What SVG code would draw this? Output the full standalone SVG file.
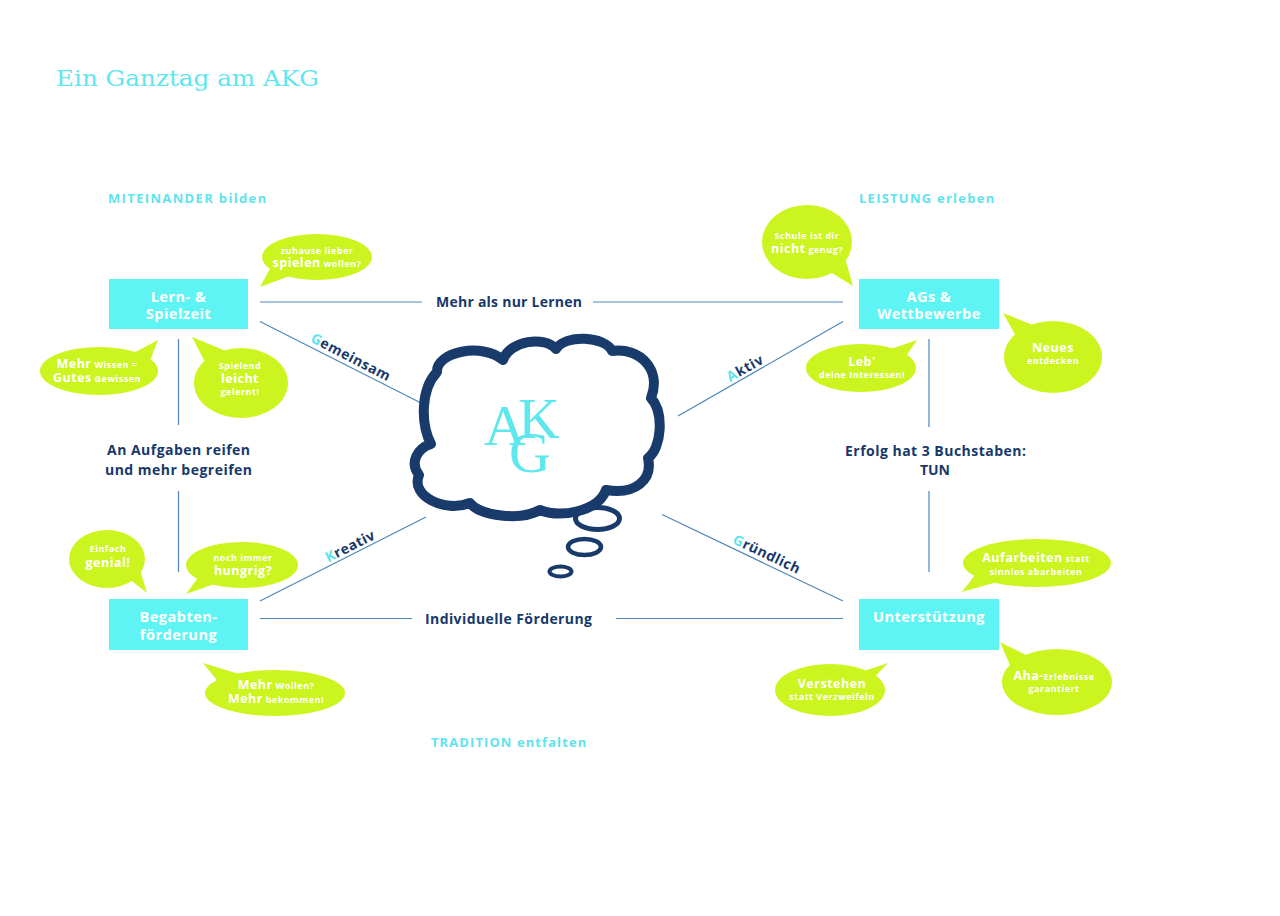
<svg xmlns="http://www.w3.org/2000/svg" width="1280" height="916" viewBox="0 0 1280 916">
<style>
text { font-family: "Open Sans", "Liberation Sans", sans-serif; }
.title { font-family: "DejaVu Serif", "Liberation Serif", serif; font-size: 23px; fill: #5fe6ee; }
.hdr { font-weight: 700; font-size: 13px; fill: #5fe3ee; letter-spacing: 0.8px; }
.lbl { font-weight: 700; font-size: 14px; fill: #17396a; text-anchor: middle; }
.diag { font-weight: 700; font-size: 14px; fill: #17396a; text-anchor: middle; letter-spacing: 0.6px; }
.cy { fill: #5fe3ee; }
.box { fill: #5ef4f4; }
.boxt { fill: #ffffff; font-weight: 700; font-size: 14.5px; text-anchor: middle; letter-spacing: 0.5px; }
.bub { fill: #ccf520; }
.bt { fill: #ffffff; font-weight: 700; text-anchor: middle; letter-spacing: 0.5px; }
.s { font-size: 9px; }
.b { font-size: 12.5px; }
.ln { stroke: #4f86b9; stroke-width: 1.2; fill: none; }
.cloud { fill: #ffffff; stroke: #193b6b; stroke-width: 10; stroke-linejoin: round; }
.ring { fill: none; stroke: #193b6b; }
.akg { font-family: "Liberation Serif", "DejaVu Serif", serif; font-size: 58px; fill: #5ee8ee; }
</style>
<rect width="1280" height="916" fill="#ffffff"/>

<text class="title" x="56" y="86" textLength="263" lengthAdjust="spacingAndGlyphs">Ein Ganztag am AKG</text>

<text class="hdr" x="108" y="203" textLength="159">MITEINANDER bilden</text>
<text class="hdr" x="859" y="203" textLength="136">LEISTUNG erleben</text>
<text class="hdr" x="431" y="747" textLength="156">TRADITION entfalten</text>

<g id="connectors">
  <line class="ln" x1="260" y1="302" x2="422" y2="302"/>
  <line class="ln" x1="593" y1="302" x2="843" y2="302"/>
  <line class="ln" x1="260" y1="618.5" x2="412" y2="618.5"/>
  <line class="ln" x1="616" y1="618.5" x2="843" y2="618.5"/>
  <line class="ln" x1="178.5" y1="339" x2="178.5" y2="425"/>
  <line class="ln" x1="178.5" y1="491" x2="178.5" y2="572"/>
  <line class="ln" x1="929" y1="339" x2="929" y2="427"/>
  <line class="ln" x1="929" y1="491" x2="929" y2="572"/>
  <line class="ln" x1="260" y1="321.5" x2="423" y2="404"/>
  <line class="ln" x1="678" y1="416" x2="843" y2="321.5"/>
  <line class="ln" x1="260" y1="601" x2="426" y2="517"/>
  <line class="ln" x1="662" y1="514.5" x2="843" y2="601"/>

  <text class="lbl" x="509" y="307" textLength="146">Mehr als nur Lernen</text>
  <text class="lbl" x="508.5" y="624" textLength="167">Individuelle Förderung</text>
  <text class="lbl" x="178.5" y="455" textLength="143">An Aufgaben reifen</text>
  <text class="lbl" x="178.5" y="475" textLength="147">und mehr begreifen</text>
  <text class="lbl" x="935.5" y="456" textLength="181">Erfolg hat 3 Buchstaben:</text>
  <text class="lbl" x="935" y="475" textLength="30">TUN</text>

  <text class="diag" transform="translate(351,357) rotate(27.4)" x="0" y="5" textLength="88"><tspan class="cy">G</tspan>emeinsam</text>
  <text class="diag" transform="translate(745,368) rotate(-29.6)" x="0" y="5" textLength="40"><tspan class="cy">A</tspan>ktiv</text>
  <text class="diag" transform="translate(350,546) rotate(-26.7)" x="0" y="5" textLength="54"><tspan class="cy">K</tspan>reativ</text>
  <text class="diag" transform="translate(767,554) rotate(25.3)" x="0" y="5" textLength="73"><tspan class="cy">G</tspan>ründlich</text>
</g>

<g id="cloud">
  <path class="cloud" d="M 437,372 C 436,352 482,342 503,360 C 510,340 545,336 556,349 C 565,334 605,336 612,351 C 640,347 662,370 651,398 C 664,412 662,448 648,458 C 653,480 635,495 606,490 C 598,512 560,518 540,510 C 520,521 480,516 470,503 C 445,513 410,496 419,475 C 409,462 418,448 431,444 C 421,425 420,390 437,372 Z"/>
  <ellipse class="ring" cx="597.5" cy="518.5" rx="22" ry="11" stroke-width="5"/>
  <ellipse class="ring" cx="584.5" cy="547" rx="16.5" ry="8" stroke-width="4.5"/>
  <ellipse class="ring" cx="560.5" cy="571.5" rx="11" ry="5" stroke-width="4"/>
  <text class="akg" x="484" y="445" font-size="56">A</text>
  <text class="akg" x="518" y="438">K</text>
  <text class="akg" x="509" y="472">G</text>
</g>

<g id="lern-spielzeit">
  <rect class="box" x="109" y="279" width="139" height="50"/>
  <text class="boxt" x="178.5" y="301.5">Lern- &amp;</text>
  <text class="boxt" x="178.5" y="319">Spielzeit</text>
</g>
<g id="ags-wettbewerbe">
  <rect class="box" x="859" y="279" width="140" height="50"/>
  <text class="boxt" x="929" y="301.5">AGs &amp;</text>
  <text class="boxt" x="929" y="319">Wettbewerbe</text>
</g>
<g id="begabtenfoerderung">
  <rect class="box" x="109" y="599" width="139" height="51"/>
  <text class="boxt" x="178.5" y="621.5">Begabten-</text>
  <text class="boxt" x="178.5" y="639.5">förderung</text>
</g>
<g id="unterstuetzung">
  <rect class="box" x="859" y="599" width="140" height="51"/>
  <text class="boxt" x="929" y="622">Unterstützung</text>
</g>

<g id="bubble-zuhause">
  <ellipse class="bub" cx="317" cy="257" rx="55" ry="23"/>
  <polygon class="bub" points="260,287 272,265 292,275"/>
  <text class="bt" x="317" y="253.5"><tspan class="s">zuhause lieber</tspan></text>
  <text class="bt" x="317" y="267"><tspan class="b">spielen</tspan><tspan class="s"> wollen?</tspan></text>
</g>
<g id="bubble-mehr-wissen">
  <ellipse class="bub" cx="99" cy="371" rx="59" ry="24"/>
  <polygon class="bub" points="158,340 128,356 148,366"/>
  <text class="bt" x="97" y="367.5"><tspan class="b">Mehr</tspan><tspan class="s"> Wissen =</tspan></text>
  <text class="bt" x="97" y="381.5"><tspan class="b">Gutes</tspan><tspan class="s"> Gewissen</tspan></text>
</g>
<g id="bubble-spielend">
  <ellipse class="bub" cx="241" cy="383" rx="47" ry="35"/>
  <polygon class="bub" points="192,337 205,362 228,352"/>
  <text class="bt s" x="240" y="369">Spielend</text>
  <text class="bt b" x="240" y="382.5">leicht</text>
  <text class="bt s" x="240" y="395">gelernt!</text>
</g>
<g id="bubble-schule">
  <ellipse class="bub" cx="807" cy="242" rx="45" ry="37"/>
  <polygon class="bub" points="853,286 827,270 845,258"/>
  <text class="bt s" x="807" y="239">Schule ist dir</text>
  <text class="bt" x="807" y="252.5"><tspan class="b">nicht</tspan><tspan class="s"> genug?</tspan></text>
</g>
<g id="bubble-leb">
  <ellipse class="bub" cx="861" cy="368" rx="55" ry="24"/>
  <polygon class="bub" points="917,340 882,352 902,362"/>
  <text class="bt b" x="862" y="366">Leb'</text>
  <text class="bt s" x="862" y="377.5">deine Interessen!</text>
</g>
<g id="bubble-neues">
  <ellipse class="bub" cx="1053" cy="357" rx="49" ry="36"/>
  <polygon class="bub" points="1003,313 1018,340 1040,328"/>
  <text class="bt b" x="1053" y="352">Neues</text>
  <text class="bt s" x="1053" y="363.5">entdecken</text>
</g>
<g id="bubble-einfach">
  <ellipse class="bub" cx="107" cy="559" rx="38" ry="29"/>
  <polygon class="bub" points="147,593 128,578 140,570"/>
  <text class="bt s" x="108" y="552">Einfach</text>
  <text class="bt b" x="108" y="567">genial!</text>
</g>
<g id="bubble-hungrig">
  <ellipse class="bub" cx="242" cy="565" rx="56" ry="23"/>
  <polygon class="bub" points="186,594 200,575 220,582"/>
  <text class="bt s" x="243" y="560.5">noch immer</text>
  <text class="bt b" x="243" y="574.5">hungrig?</text>
</g>
<g id="bubble-mehr-wollen">
  <ellipse class="bub" cx="275" cy="693" rx="70" ry="23"/>
  <polygon class="bub" points="203,663 220,684 242,675"/>
  <text class="bt" x="276" y="688.5"><tspan class="b">Mehr</tspan><tspan class="s"> Wollen?</tspan></text>
  <text class="bt" x="276" y="702.5"><tspan class="b">Mehr</tspan><tspan class="s"> bekommen!</tspan></text>
</g>
<g id="bubble-aufarbeiten">
  <ellipse class="bub" cx="1037" cy="563" rx="74" ry="24"/>
  <polygon class="bub" points="962,592 975,575 997,582"/>
  <text class="bt" x="1036" y="561.5"><tspan class="b">Aufarbeiten</tspan><tspan class="s"> statt</tspan></text>
  <text class="bt s" x="1036" y="575">sinnlos abarbeiten</text>
</g>
<g id="bubble-verstehen">
  <ellipse class="bub" cx="830" cy="690" rx="55" ry="26"/>
  <polygon class="bub" points="888,663 855,674 870,682"/>
  <text class="bt b" x="832" y="687.5">Verstehen</text>
  <text class="bt s" x="832" y="700">statt Verzweifeln</text>
</g>
<g id="bubble-aha">
  <ellipse class="bub" cx="1057" cy="682" rx="55" ry="33"/>
  <polygon class="bub" points="1000,642 1012,670 1032,658"/>
  <text class="bt" x="1054" y="679.5"><tspan class="b">Aha-</tspan><tspan class="s">Erlebnisse</tspan></text>
  <text class="bt s" x="1054" y="692">garantiert</text>
</g>
</svg>
